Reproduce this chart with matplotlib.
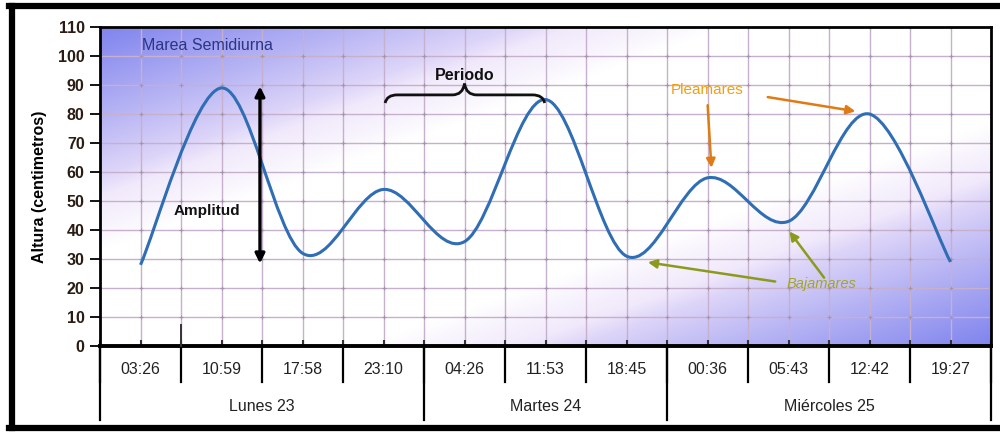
import numpy as np
import matplotlib
matplotlib.use("Agg")
import matplotlib.pyplot as plt
from matplotlib.path import Path
from matplotlib.patches import PathPatch
import matplotlib.transforms as mtransforms
from matplotlib.lines import Line2D

plt.rcParams['font.family'] = ['Liberation Sans', 'DejaVu Sans']

# ---- data ----
times = ["03:26", "10:59", "17:58", "23:10", "04:26", "11:53", "18:45",
         "00:36", "05:43", "12:42", "19:27"]
heights = [28, 89, 32, 54, 36, 85, 31, 58, 43, 80, 29]
days = ["Lunes 23", "Martes 24", "Miércoles 25"]
day_counts = [4, 3, 4]
yticks = list(range(0, 111, 10))

fig = plt.figure(figsize=(10, 4.32), dpi=100)
ax = fig.add_axes([0.100, 0.199, 0.891, 0.7384])

n = len(times)
x = np.arange(n)
ax.set_xlim(-0.5, n - 0.5)
ax.set_ylim(0, 110)

# ---- gradient background ----
H, W = 200, 500
u = np.linspace(0, 1, W)[None, :]
w = np.linspace(1, 0, H)[:, None]
d = (w - u)
inten = np.clip((np.abs(d) - 0.30) / 0.70, 0, 1) ** 0.85
blue = np.array([128, 132, 238]) / 255.0
lav = np.array([236, 226, 250]) / 255.0
white = np.array([1.0, 1.0, 1.0])
img = np.empty((H, W, 3))
for c in range(3):
    mid = white[c] + (lav[c] - white[c]) * np.clip(inten * 2.5, 0, 1)
    img[:, :, c] = mid + (blue[c] - mid) * np.clip((inten - 0.3) / 0.7, 0, 1)
ax.imshow(img, extent=[-0.5, n - 0.5, 0, 110], aspect='auto', zorder=0,
          interpolation='bilinear')

# ---- grid ----
grid_col = '#c7b0cd'
for gx in np.arange(-0.5, n, 0.5):
    ax.axvline(gx, color=grid_col, lw=1.0, zorder=1)
for gy in yticks[1:]:
    ax.axhline(gy, color=grid_col, lw=1.0, zorder=1)
gxs, gys = np.meshgrid(np.arange(0, n - 0.4, 0.5), yticks[1:])
ax.scatter(gxs.ravel(), gys.ravel(), marker='+', s=8, color='#a595aa',
           linewidths=0.8, zorder=1.5)

# ---- smoothed line (Bezier through points) ----
pts = np.column_stack([x, heights]).astype(float)
P = np.vstack([pts[0], pts, pts[-1]])
verts = [tuple(pts[0])]
codes = [Path.MOVETO]
for i in range(1, len(P) - 2):
    p0, p1, p2, p3 = P[i - 1], P[i], P[i + 1], P[i + 2]
    c1 = p1 + (p2 - p0) / 6.0
    c2 = p2 - (p3 - p1) / 6.0
    verts += [tuple(c1), tuple(c2), tuple(p2)]
    codes += [Path.CURVE4] * 3
ax.add_patch(PathPatch(Path(verts, codes), facecolor='none',
                       edgecolor='#2f6db5', lw=2.2, zorder=3))

# ---- axes styling ----
for s in ax.spines.values():
    s.set_color('black')
    s.set_linewidth(2.0)
ax.spines['bottom'].set_linewidth(2.8)
ax.set_yticks(yticks)
ax.set_yticklabels([str(t) for t in yticks], fontsize=11.5, fontweight='bold',
                   color='#2a1c14')
ax.tick_params(axis='y', direction='out', length=7, width=1.3, pad=4)
ax.set_xticks(np.arange(-0.5, n, 0.5))
ax.set_xticklabels([])
ax.tick_params(axis='x', direction='in', length=4, width=1.5, color='#333333')
ax.set_ylabel('Altura (centimetros)', fontsize=11.5, fontweight='bold',
              labelpad=8)

# ---- two-level category axis ----
trans = mtransforms.blended_transform_factory(ax.transData, ax.transAxes)
for i, t in enumerate(times):
    ax.text(i, -0.075, t, transform=trans, ha='center', va='center',
            fontsize=11.5, color='#222222')
bounds = np.cumsum([0] + day_counts) - 0.5
for b in np.arange(-0.5, n, 1.0):
    ax.plot([b, b], [0, -0.113], transform=trans, color='black', lw=1.6,
            clip_on=False, zorder=5)
for b in bounds:
    ax.plot([b, b], [0, -0.232], transform=trans, color='black', lw=1.6,
            clip_on=False, zorder=5)
for k, dname in enumerate(days):
    cx = (bounds[k] + bounds[k + 1]) / 2
    ax.text(cx, -0.191, dname, transform=trans, ha='center', va='center',
            fontsize=11.5, color='#222222')
ax.plot([0.5, 0.5], [0, 0.066], transform=trans, color='#333333', lw=1.4,
        clip_on=False, zorder=5)

# ---- annotations ----
ax.text(0.02, 103.8, 'Marea Semidiurna', fontsize=11.5, color='#2b3585',
        ha='left', va='center', zorder=4)
ax.annotate('', xy=(1.475, 90.5), xytext=(1.475, 27.5),
            arrowprops=dict(arrowstyle='<|-|>', color='black', lw=2.4,
                            mutation_scale=14), zorder=4)
ax.text(0.82, 46.5, 'Amplitud', fontsize=11, fontweight='bold', ha='center',
        va='center', color='#111111', zorder=4)
ax.text(4.0, 93.4, 'Periodo', fontsize=11.5, fontweight='bold', ha='center',
        va='center', color='#111111', zorder=4)

# curly brace
xl, xm, xr = 3.02, 4.0, 4.99
yb, yh, yt = 83.8, 86.6, 90.5
bv = [(xl, yb), (xl + 0.02, yh), (xl + 0.15, yh),
      (xm - 0.15, yh), (xm - 0.02, yh), (xm, yt),
      (xm + 0.02, yh), (xm + 0.15, yh),
      (xr - 0.15, yh), (xr - 0.02, yh), (xr, yb)]
bc = [Path.MOVETO, Path.CURVE3, Path.CURVE3,
      Path.LINETO, Path.CURVE3, Path.CURVE3,
      Path.CURVE3, Path.CURVE3,
      Path.LINETO, Path.CURVE3, Path.CURVE3]
ax.add_patch(PathPatch(Path(bv, bc), facecolor='none', edgecolor='#111111',
                       lw=2.0, zorder=4))

ax.text(7.0, 88.3, 'Pleamares', fontsize=11, color='#f0a010', ha='center',
        va='center', zorder=4)
pc = '#e07a12'
ax.annotate('', xy=(7.05, 60.5), xytext=(7.0, 84.0),
            arrowprops=dict(arrowstyle='-|>', color=pc, lw=1.8,
                            mutation_scale=13), zorder=4)
ax.annotate('', xy=(8.86, 80.8), xytext=(7.71, 86.0),
            arrowprops=dict(arrowstyle='-|>', color=pc, lw=1.8,
                            mutation_scale=13), zorder=4)

ax.text(8.41, 21.4, 'Bajamares', fontsize=10.5, style='italic',
        color='#a3a623', ha='center', va='center', zorder=4)
bcol = '#8c9a1c'
ax.annotate('', xy=(6.23, 29.0), xytext=(7.87, 22.1),
            arrowprops=dict(arrowstyle='-|>', color=bcol, lw=1.8,
                            mutation_scale=13), zorder=4)
ax.annotate('', xy=(7.99, 40.3), xytext=(8.46, 22.8),
            arrowprops=dict(arrowstyle='-|>', color=bcol, lw=1.8,
                            mutation_scale=13), zorder=4)

# ---- outer frame ----
fig.add_artist(Line2D([0.012, 0.012], [0.01, 0.986], color='black', lw=4.5,
                      transform=fig.transFigure))
fig.add_artist(Line2D([0.009, 1.0], [0.986, 0.986], color='black', lw=4.5,
                      transform=fig.transFigure))
fig.add_artist(Line2D([0.009, 1.0], [0.01, 0.01], color='black', lw=4.5,
                      transform=fig.transFigure))

fig.savefig('out.png', dpi=100, facecolor='white')
